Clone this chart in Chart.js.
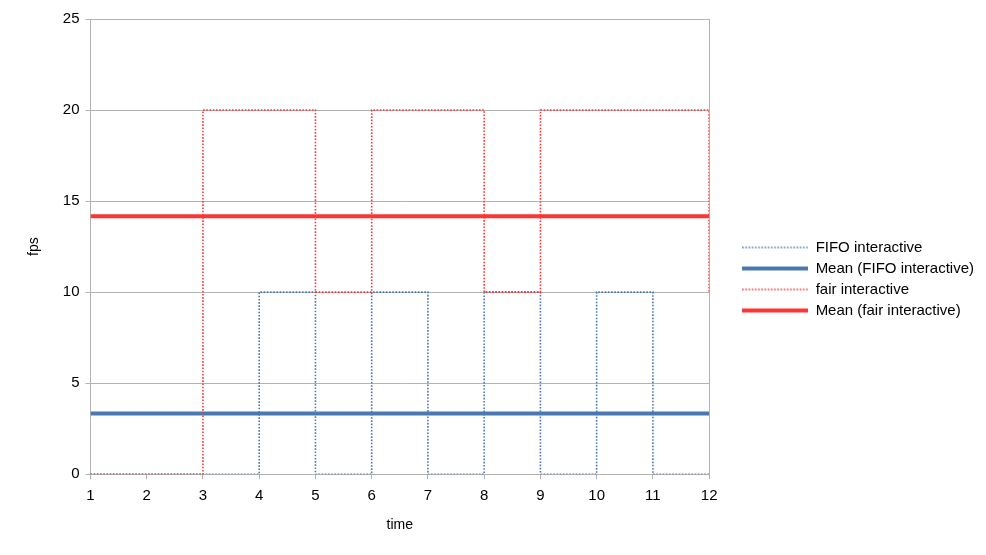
<!DOCTYPE html>
<html>
<head>
<meta charset="utf-8">
<script src="https://cdn.jsdelivr.net/npm/chart.js@4"></script>
<style>
  body { margin: 0; background: #fff; }
  #wrap { width: 986px; height: 555px; }
</style>
</head>
<body>
<div id="wrap"><canvas id="fpsChart" width="986" height="555"></canvas></div>
<script>
const times = [1, 2, 3, 4, 5, 6, 7, 8, 9, 10, 11, 12];
const fifoInteractive = [0, 0, 0, 10, 0, 10, 0, 10, 0, 10, 0, 0];
const fairInteractive = [0, 0, 20, 20, 10, 20, 20, 10, 20, 20, 20, 10];
const yTicks = [0, 5, 10, 15, 20, 25];

const BLUE = '#4a78b0';
const RED = '#ff3333';
const GRID = '#b3b3b3';
const FONT = "'Liberation Sans', Arial, sans-serif";

// trend line = mean of the series, drawn across the whole x range
function mean(arr) {
  return arr.reduce((s, v) => s + v, 0) / arr.length;
}
function toPoints(xs, ys) {
  return xs.map((x, i) => ({ x: x, y: ys[i] }));
}
// small canvas used as the legend marker (built-in 'line' style loses the dash)
function legendLine(color, width, dash) {
  const c = document.createElement('canvas');
  c.width = 66;
  c.height = 6;
  const g = c.getContext('2d');
  g.strokeStyle = color;
  g.lineWidth = width;
  g.setLineDash(dash);
  g.beginPath();
  g.moveTo(0, 3);
  g.lineTo(66, 3);
  g.stroke();
  return c;
}

const fifoMean = mean(fifoInteractive);
const fairMean = mean(fairInteractive);
const first = times[0], last = times[times.length - 1];

const ctx = document.getElementById('fpsChart').getContext('2d');
new Chart(ctx, {
  type: 'line',
  data: {
    datasets: [
      {
        label: 'FIFO interactive',
        data: toPoints(times, fifoInteractive),
        borderColor: BLUE,
        borderWidth: 1.6,
        borderDash: [1.6, 1.6],
        stepped: 'before',
        pointRadius: 0,
        pointStyle: legendLine(BLUE, 1.6, [1.6, 1.6]),
        order: 4
      },
      {
        label: 'Mean (FIFO interactive)',
        data: [{ x: first, y: fifoMean }, { x: last, y: fifoMean }],
        borderColor: BLUE,
        borderWidth: 4,
        pointRadius: 0,
        pointStyle: legendLine(BLUE, 4, []),
        order: 3
      },
      {
        label: 'fair interactive',
        data: toPoints(times, fairInteractive),
        borderColor: RED,
        borderWidth: 1.6,
        borderDash: [1.6, 1.6],
        stepped: 'before',
        pointRadius: 0,
        pointStyle: legendLine(RED, 1.6, [1.6, 1.6]),
        order: 2
      },
      {
        label: 'Mean (fair interactive)',
        data: [{ x: first, y: fairMean }, { x: last, y: fairMean }],
        borderColor: RED,
        borderWidth: 4,
        pointRadius: 0,
        pointStyle: legendLine(RED, 4, []),
        order: 1
      }
    ]
  },
  options: {
    responsive: false,
    animation: false,
    devicePixelRatio: 1,
    layout: { padding: { left: 22, top: 19, right: 2, bottom: 16 } },
    plugins: {
      tooltip: { enabled: false },
      legend: {
        position: 'right',
        align: 'center',
        maxWidth: 300,
        labels: {
          usePointStyle: true,
          pointStyleWidth: 66,
          padding: 6,
          color: '#000',
          font: { family: FONT, size: 15 },
          sort: (a, b) => a.datasetIndex - b.datasetIndex
        }
      }
    },
    scales: {
      x: {
        type: 'linear',
        min: first,
        max: last,
        afterBuildTicks: axis => { axis.ticks = times.map(v => ({ value: v })); },
        ticks: { color: '#000', font: { family: FONT, size: 15 }, padding: 8 },
        grid: {
          color: c => (c.tick && c.tick.value === last ? GRID : 'rgba(0,0,0,0)'),
          tickColor: GRID,
          tickLength: 5
        },
        border: { color: GRID },
        title: { display: true, text: 'time', color: '#000', font: { family: FONT, size: 14 }, padding: { top: 4, bottom: 5 } }
      },
      y: {
        min: 0,
        max: 25,
        afterBuildTicks: axis => { axis.ticks = yTicks.map(v => ({ value: v })); },
        ticks: { color: '#000', font: { family: FONT, size: 15 }, padding: 6 },
        grid: { color: GRID, tickColor: GRID, tickLength: 5 },
        border: { color: GRID },
        title: { display: true, text: 'fps', color: '#000', font: { family: FONT, size: 14 }, padding: { bottom: 14 } }
      },
      // empty axis only to keep the gap between plot and legend
      gap: {
        position: 'right',
        min: 0,
        max: 1,
        ticks: { display: false },
        grid: { display: false },
        border: { display: false },
        afterFit: axis => { axis.width = 27; }
      }
    }
  }
});
</script>
</body>
</html>
